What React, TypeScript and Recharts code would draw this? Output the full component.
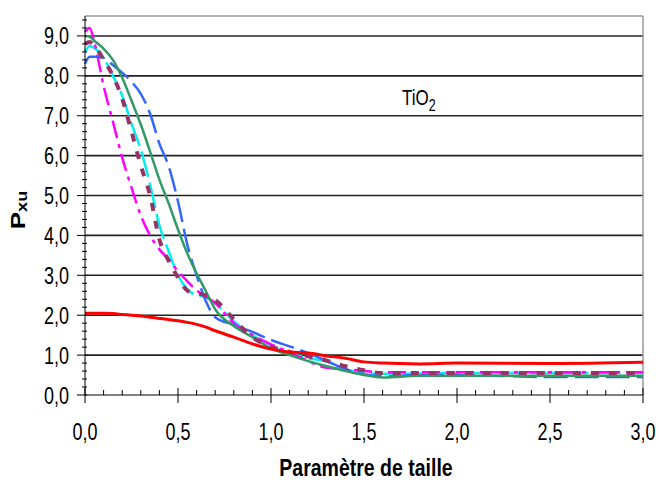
import React from 'react';
import { LineChart, Line, XAxis, YAxis, CartesianGrid, ReferenceLine, ReferenceDot } from 'recharts';

// size parameter (x) shared by every series
const sizeParam = [0, 0.025, 0.05, 0.1, 0.15, 0.2, 0.25, 0.3, 0.35, 0.4, 0.45, 0.5, 0.55, 0.6, 0.65, 0.7, 0.8, 0.9, 1.0, 1.1, 1.2, 1.3, 1.4, 1.5, 1.6, 1.8, 2.0, 2.5, 3.0];

const redSeries = [2.05, 2.05, 2.05, 2.05, 2.04, 2.02, 2.0, 1.98, 1.95, 1.92, 1.89, 1.86, 1.82, 1.77, 1.7, 1.61, 1.45, 1.28, 1.15, 1.08, 1.05, 0.98, 0.92, 0.83, 0.8, 0.78, 0.8, 0.79, 0.82];
const blueSeries = [8.3, 8.48, 8.48, 8.45, 8.27, 8.08, 7.85, 7.55, 7.05, 6.3, 5.73, 4.85, 3.77, 3.0, 2.35, 1.95, 1.76, 1.58, 1.38, 1.22, 1.05, 0.85, 0.65, 0.52, 0.47, 0.5, 0.5, 0.45, 0.45];
const greenSeries = [9.0, 8.98, 8.88, 8.68, 8.4, 7.95, 7.38, 6.78, 6.1, 5.4, 4.8, 4.15, 3.55, 3.05, 2.6, 2.15, 1.73, 1.45, 1.17, 1.0, 0.85, 0.72, 0.6, 0.5, 0.44, 0.48, 0.48, 0.48, 0.48];
const cyanSeries = [8.6, 8.75, 8.7, 8.45, 8.0, 7.5, 6.8, 6.15, 5.27, 4.25, 3.6, 3.0, 2.65, 2.5, 2.45, 2.3, 1.85, 1.5, 1.25, 1.05, 0.92, 0.84, 0.65, 0.54, 0.53, 0.54, 0.55, 0.55, 0.55];
const magentaSeries = [9.1, 9.2, 8.85, 7.75, 6.85, 5.95, 5.2, 4.5, 4.0, 3.65, 3.4, 3.1, 2.85, 2.62, 2.47, 2.3, 1.8, 1.5, 1.27, 1.07, 0.85, 0.68, 0.65, 0.6, 0.57, 0.57, 0.57, 0.57, 0.57];
const maroonSeries = [8.8, 8.85, 8.77, 8.4, 8.0, 7.43, 6.6, 5.75, 5.0, 3.9, 3.36, 2.95, 2.62, 2.55, 2.5, 2.38, 1.9, 1.45, 1.21, 1.08, 0.97, 0.86, 0.72, 0.62, 0.55, 0.55, 0.55, 0.55, 0.55];

const yGridValues = [1, 2, 3, 4, 5, 6, 7, 8, 9];
const xTicks = Array.from({ length: 31 }, (_, i) => i / 10);
const yTicks = Array.from({ length: 48 }, (_, i) => i / 5);

const data = sizeParam.map((x, i) => ({
  x,
  red: redSeries[i],
  blue: blueSeries[i],
  green: greenSeries[i],
  cyan: cyanSeries[i],
  magenta: magentaSeries[i],
  maroon: maroonSeries[i],
}));

const FONT = '"Liberation Sans", Arial, sans-serif';
const STRETCH = 1.32; // the original text is drawn taller than it is wide
const fmt = (v: number) => v.toFixed(1).replace('.', ',');

const XTick = (props: any) => {
  const { x, y, payload } = props;
  const v = payload.value;
  const major = Math.abs(v * 2 - Math.round(v * 2)) < 1e-6;
  if (!major) return <line x1={x} x2={x} y1={y - 5} y2={y} stroke="#000" />;
  return (
    <g>
      <line x1={x} x2={x} y1={y - 7} y2={y + 8} stroke="#000" />
      <text
        transform={`translate(${x},${y + 45}) scale(1,${STRETCH})`}
        textAnchor="middle"
        fontFamily={FONT}
        fontSize={18}
        fill="#000"
      >
        {fmt(v)}
      </text>
    </g>
  );
};

const YTick = (props: any) => {
  const { x, y, payload } = props;
  const v = payload.value;
  const major = Math.abs(v - Math.round(v)) < 1e-6;
  if (!major) return <line x1={x - 3} x2={x + 2} y1={y} y2={y} stroke="#000" />;
  return (
    <g>
      <line x1={x - 8} x2={x + 2} y1={y} y2={y} stroke="#000" />
      <text
        transform={`translate(${x - 16},${y + 8.5}) scale(1,${STRETCH})`}
        textAnchor="end"
        fontFamily={FONT}
        fontSize={18}
        fill="#000"
      >
        {fmt(v)}
      </text>
    </g>
  );
};

const XTitle = (props: any) => {
  const vb = props.viewBox || { x: 85, y: 395, width: 558 };
  const cx = vb.x + vb.width / 2 + 2;
  return (
    <text
      transform={`translate(${cx},476) scale(1,1.18)`}
      textAnchor="middle"
      fontFamily={FONT}
      fontWeight="bold"
      fontSize={19.5}
      fill="#000"
    >
      Paramètre de taille
    </text>
  );
};

const YTitle = (props: any) => {
  const vb = props.viewBox || { x: 0, y: 16, width: 85, height: 379 };
  const cx = vb.x + 25;
  const cy = 210;
  return (
    <text
      transform={`translate(${cx},${cy}) rotate(-90) scale(1.3,1)`}
      textAnchor="middle"
      fontFamily={FONT}
      fontWeight="bold"
      fontSize={20}
      fill="#000"
    >
      P<tspan fontSize={14} dy={2}>xu</tspan>
    </text>
  );
};

const TiO2Label = (props: any) => {
  const vb = props.viewBox || { x: 0, y: 0 };
  return (
    <text
      transform={`translate(${vb.x},${vb.y}) scale(1,${STRETCH})`}
      fontFamily={FONT}
      fontSize={17}
      fill="#000"
    >
      TiO<tspan fontSize={12.5} dy={4.5}>2</tspan>
    </text>
  );
};

export default function App() {
  return (
    <div style={{ position: 'absolute', left: 0, top: 0, width: 659, height: 480, background: '#fff' }}>
      <LineChart width={659} height={480} data={data} margin={{ top: 16, right: 16, left: 0, bottom: 0 }}>
        <CartesianGrid horizontal vertical={false} horizontalValues={yGridValues} stroke="#222" strokeWidth={1.6} />
        <ReferenceLine y={9.5} stroke="#999" strokeWidth={1.5} />
        <ReferenceLine x={3} stroke="#999" strokeWidth={1.5} />
        <XAxis
          type="number"
          dataKey="x"
          domain={[0, 3]}
          ticks={xTicks}
          interval={0}
          tick={<XTick />}
          tickLine={false}
          tickSize={0}
          tickMargin={0}
          axisLine={{ stroke: '#000' }}
          height={85}
          label={<XTitle />}
        />
        <YAxis
          type="number"
          domain={[0, 9.5]}
          ticks={yTicks}
          interval={0}
          allowDataOverflow
          tick={<YTick />}
          tickLine={false}
          tickSize={0}
          tickMargin={0}
          axisLine={{ stroke: '#000' }}
          width={85}
          label={<YTitle />}
        />
        <Line type="monotone" dataKey="cyan" stroke="#00EEEE" strokeWidth={2.5} strokeDasharray="26 6" dot={false} activeDot={false} isAnimationActive={false} />
        <Line type="monotone" dataKey="magenta" stroke="#FF00FF" strokeWidth={2.5} strokeDasharray="18 6 4 6" dot={false} activeDot={false} isAnimationActive={false} />
        <Line type="monotone" dataKey="blue" stroke="#3366FF" strokeWidth={2.5} strokeDasharray="24 7" dot={false} activeDot={false} isAnimationActive={false} />
        <Line type="monotone" dataKey="green" stroke="#339966" strokeWidth={2.5} dot={false} activeDot={false} isAnimationActive={false} />
        <Line type="monotone" dataKey="maroon" stroke="#993366" strokeWidth={4} strokeDasharray="8 10" dot={false} activeDot={false} isAnimationActive={false} />
        <Line type="monotone" dataKey="red" stroke="#FF0000" strokeWidth={3} dot={false} activeDot={false} isAnimationActive={false} />
        <ReferenceDot x={1.71} y={7.24} r={1} fill="none" stroke="none" label={<TiO2Label />} />
      </LineChart>
    </div>
  );
}
